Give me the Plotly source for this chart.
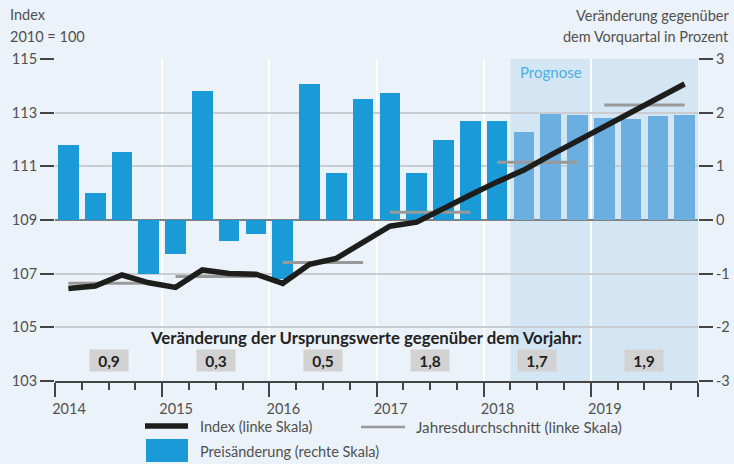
import plotly.graph_objects as go

# ---------------- data ----------------
quarters = [f"{y}Q{q}" for y in range(2014, 2020) for q in range(1, 5)]
years = ["2014", "2015", "2016", "2017", "2018", "2019"]

price_change = [1.40, 0.50, 1.27, -1.00,
                -0.63, 2.40, -0.39, -0.26,
                -1.10, 2.53, 0.88, 2.25,
                2.37, 0.88, 1.49, 1.84,
                1.84, 1.64, 1.98, 1.96,
                1.90, 1.88, 1.94, 1.96]
forecast_flag = [False] * 17 + [True] * 7

index_values = [106.45, 106.54, 106.95, 106.66,
                106.49, 107.14, 107.01, 106.98,
                106.64, 107.35, 107.57, 108.15,
                108.77, 108.92, 109.40, 109.93,
                110.42, 110.86, 111.42, 111.95,
                112.50, 113.03, 113.55, 114.07]

year_avg = [106.64, 106.89, 107.42, 109.29, 111.15, 113.29]
yoy_change = ["0,9", "0,3", "0,5", "1,8", "1,7", "1,9"]

left_ticks = [103, 105, 107, 109, 111, 113, 115]
right_ticks = [-3, -2, -1, 0, 1, 2, 3]

# ---------------- style ----------------
BG = "#ECF2F9"
SHADE = "#D4E5F4"
BLUE = "#1A9AD6"
BLUE_F = "#6AAFE0"
TXT = "#505050"
FONT = "Lato"

# plot-area pixel geometry (for paper conversions of text/legend)
L, R, T, B = 55, 36, 59, 83
W, H = 734, 464
PW, PH = W - L - R, H - T - B


def px(xp):
    return (xp - L) / PW


def py(yp):
    return (H - B - yp) / PH


qx = [i + 0.5 for i in range(len(quarters))]

fig = go.Figure()

# bars on primary (right-hand) axis
fig.add_trace(go.Bar(
    x=qx, y=price_change, width=0.77,
    marker=dict(color=[BLUE_F if f else BLUE for f in forecast_flag], line=dict(width=0)),
    showlegend=False, hoverinfo="skip"))

# annual averages on the left axis (overlay)
ax, ay = [], []
for k, v in enumerate(year_avg):
    ax += [qx[4 * k], qx[4 * k + 3], None]
    ay += [v, v, None]
fig.add_trace(go.Scatter(x=ax, y=ay, mode="lines", yaxis="y2",
                         line=dict(color="#999999", width=3),
                         showlegend=False, hoverinfo="skip"))

# index line
fig.add_trace(go.Scatter(x=qx, y=index_values, mode="lines", yaxis="y2",
                         line=dict(color="#1D1D1B", width=5.5),
                         showlegend=False, hoverinfo="skip"))

shapes = []
# forecast shading
shapes.append(dict(type="rect", xref="x", yref="paper", x0=17, x1=24, y0=0, y1=1,
                   fillcolor=SHADE, line=dict(width=0), layer="below"))

annotations = []
# forecast label
annotations.append(dict(x=18.5, y=py(72), xref="x", yref="paper", text="Prognose",
                        showarrow=False, font=dict(family=FONT, size=15, color="#4AB0E7"),
                        xanchor="center", yanchor="middle"))
# yoy header
annotations.append(dict(x=px(366), y=py(337), xref="paper", yref="paper",
                        text="<b>Veränderung der Ursprungswerte gegenüber dem Vorjahr:</b>",
                        showarrow=False, font=dict(family=FONT, size=16.8, color="#222222"),
                        xanchor="center", yanchor="middle"))
# yoy boxes
for k, t in enumerate(yoy_change):
    annotations.append(dict(x=4 * k + 2, y=py(360.5), xref="x", yref="paper",
                            text=f"<b>{t}</b>", showarrow=False,
                            font=dict(family=FONT, size=15.5, color="#222222"),
                            bgcolor="#D2D2D2", width=38, height=21, borderpad=0,
                            xanchor="center", yanchor="middle"))
# axis titles
for txt, xx, yy, anc in [("Index", 8, 14, "left"), ("2010 = 100", 8, 37, "left"),
                         ("Veränderung gegenüber", 731, 16, "right"),
                         ("dem Vorquartal in Prozent", 731, 37, "right")]:
    annotations.append(dict(x=px(xx), y=py(yy), xref="paper", yref="paper", text=txt,
                            showarrow=False, font=dict(family=FONT, size=14.5, color=TXT),
                            xanchor=anc, yanchor="middle"))

# manual legend
shapes.append(dict(type="line", xref="paper", yref="paper", x0=px(145), x1=px(188),
                   y0=py(426), y1=py(426), line=dict(color="#1D1D1B", width=5.5)))
shapes.append(dict(type="line", xref="paper", yref="paper", x0=px(361), x1=px(405),
                   y0=py(427), y1=py(427), line=dict(color="#999999", width=2.5)))
shapes.append(dict(type="rect", xref="paper", yref="paper", x0=px(146), x1=px(188),
                   y0=py(462), y1=py(439), fillcolor=BLUE, line=dict(width=0)))
for txt, xx, yy, sz in [("Index (linke Skala)", 198, 426, 14.5),
                        ("Jahresdurchschnitt (linke Skala)", 414, 427, 15.2),
                        ("Preisänderung (rechte Skala)", 198, 451, 14.5)]:
    annotations.append(dict(x=px(xx), y=py(yy), xref="paper", yref="paper", text=txt,
                            showarrow=False, font=dict(family=FONT, size=sz, color=TXT),
                            xanchor="left", yanchor="middle"))

fig.update_layout(
    width=W, height=H,
    margin=dict(l=L, r=R, t=T, b=B, autoexpand=False),
    paper_bgcolor=BG, plot_bgcolor=BG,
    font=dict(family=FONT, size=14.5, color=TXT),
    bargap=0, showlegend=False,
    xaxis=dict(range=[0, 24], tickvals=[0, 4, 8, 12, 16, 20, 24],
               ticktext=years + [""], ticks="outside", ticklen=14, tickwidth=1.5,
               tickcolor="#444444", ticklabelshift=14, automargin=False,
               minor=dict(dtick=1, tick0=0, ticks="outside", ticklen=7,
                          tickwidth=1.5, tickcolor="#444444", showgrid=False),
               showgrid=True, gridcolor="#FFFFFF", gridwidth=1.5,
               showline=True, linecolor="#444444", linewidth=1.5,
               zeroline=False, fixedrange=True),
    yaxis=dict(range=[-3, 3], side="right", tickvals=right_ticks,
               ticktext=[str(v) for v in right_ticks], automargin=False,
               ticks="outside", ticklen=14, tickwidth=1.5, tickcolor="#444444",
               showgrid=True, gridcolor="#C9CDD2", gridwidth=1.5,
               zeroline=True, zerolinecolor="#808080", zerolinewidth=2,
               showline=False, fixedrange=True),
    yaxis2=dict(range=[103, 115], side="left", overlaying="y", tickvals=left_ticks,
                ticks="outside", ticklen=14, tickwidth=1.5, tickcolor="#444444",
                automargin=False, showgrid=False, zeroline=False, showline=False,
                fixedrange=True),
    shapes=shapes, annotations=annotations,
)

fig.write_html("out.html",
               config={"displayModeBar": False},
               post_script="document.body.style.margin='0';document.body.style.padding='0';"
                           "document.body.style.background='" + BG + "';")
